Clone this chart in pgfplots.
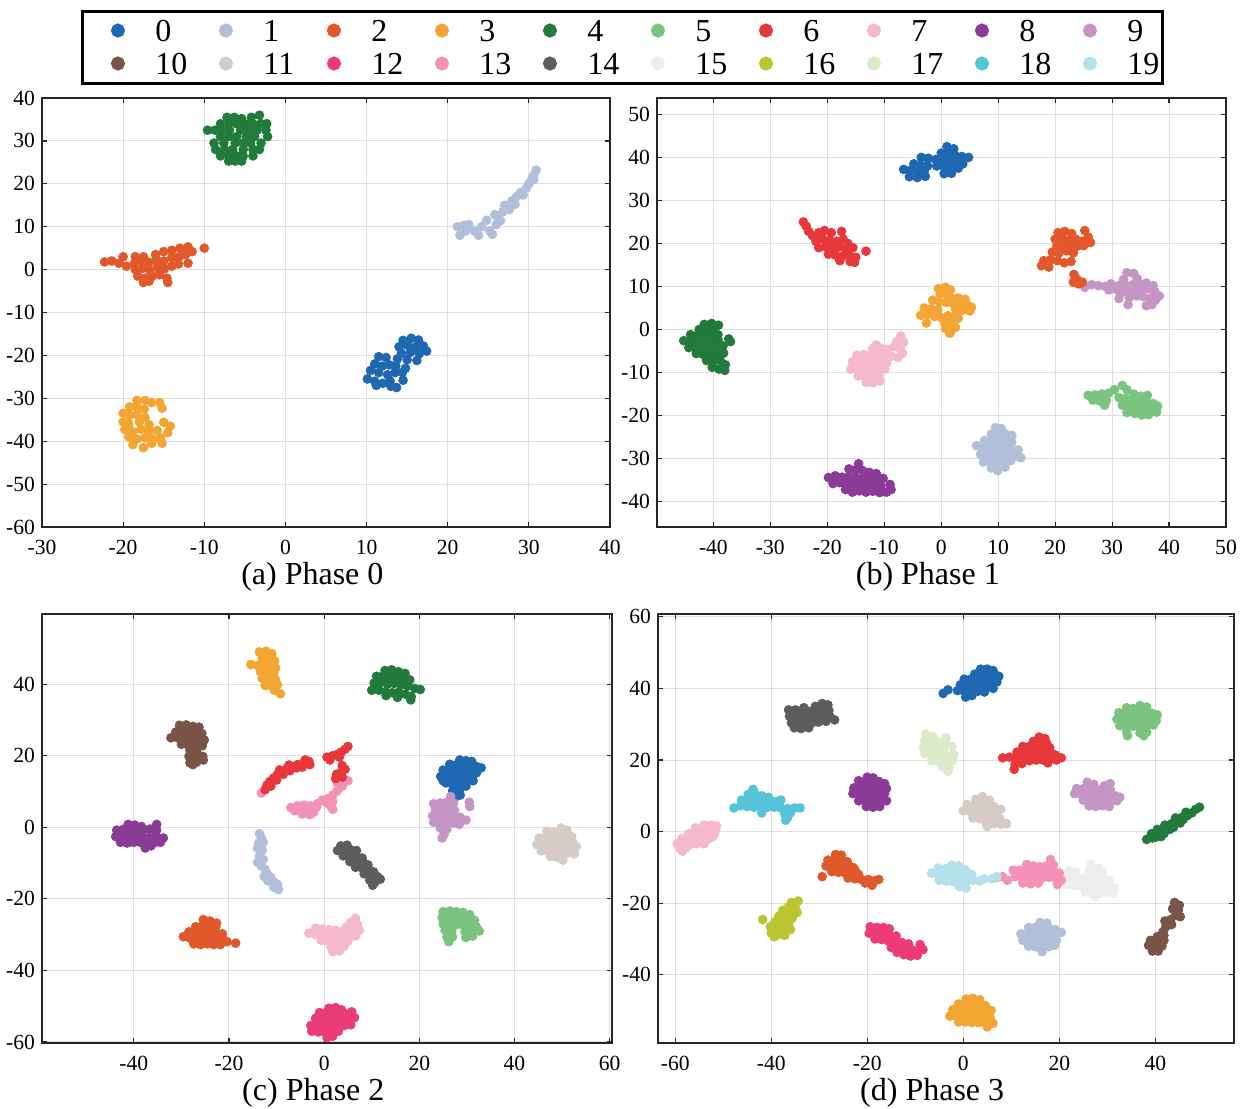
\documentclass[border=0pt]{standalone}
\usepackage{pgfplots}
\pgfplotsset{compat=1.18}
\usepackage{fontspec}
\setmainfont{Liberation Serif}
\definecolor{c0}{HTML}{1F67B1}
\definecolor{c1}{HTML}{B1BFDB}
\definecolor{c2}{HTML}{E1582A}
\definecolor{c3}{HTML}{F3A533}
\definecolor{c4}{HTML}{227B3A}
\definecolor{c5}{HTML}{7BC47F}
\definecolor{c6}{HTML}{E6373A}
\definecolor{c7}{HTML}{F6B8CF}
\definecolor{c8}{HTML}{8A3B95}
\definecolor{c9}{HTML}{C595C6}
\definecolor{c10}{HTML}{7A5447}
\definecolor{c11}{HTML}{D7CBC6}
\definecolor{c12}{HTML}{EB3C77}
\definecolor{c13}{HTML}{F391B6}
\definecolor{c14}{HTML}{5D5D5D}
\definecolor{c15}{HTML}{ECEEEE}
\definecolor{c16}{HTML}{BCC531}
\definecolor{c17}{HTML}{DBEBC9}
\definecolor{c18}{HTML}{55C4D9}
\definecolor{c19}{HTML}{B4E1EC}
\pgfplotsset{
  cl/.style={only marks, mark=*, mark size=2.2pt, color=#1, forget plot},
  pan/.style={
    scale only axis, height=214.5pt,
    anchor=south west,
    tick align=inside,
    grid=major,
    major grid style={color=black!13, line width=0.5pt},
    axis line style={color=black!85, line width=0.9pt},
    major tick style={color=black!85, line width=0.6pt},
    major tick length=2.5pt,
    /pgf/number format/assume math mode=true,
    tick label style={font=\fontsize{10.8}{12}\selectfont, color=black},
    xticklabel style={yshift=-3pt},
    xlabel style={at={(axis description cs:0.476,0)}, anchor=center, yshift=-25pt, font=\fontsize{16}{18}\selectfont},
  }
}
\begin{document}
\begin{tikzpicture}
\path[use as bounding box] (0,0) rectangle (623.5pt,-554pt);
% ---------------- (a) Phase 0 ----------------
\begin{axis}[pan, at={(21pt,-263.5pt)}, width=284pt,
  xmin=-30, xmax=40, ymin=-60, ymax=40,
  xtick={-30,-20,...,40}, ytick={-60,-50,...,40},
  xlabel={(a) Phase 0},
  legend columns=10, legend cell align=left,
  legend image code/.code={\path[draw=none, fill=none] (-17.75pt,-0.1pt) rectangle (17.75pt,0.1pt); \fill[#1] (0pt,0pt) circle (2.75pt);},
  legend style={at={(axis description cs:0.0686,1.2063)}, anchor=north west, draw=black, line width=1.5pt, fill=white,
    inner xsep=0pt, inner ysep=1.5pt, /tikz/column sep=0pt, /tikz/row sep=0pt,
    nodes={draw=none, fill=none, inner xsep=1pt, inner ysep=2.75pt, text height=11pt, text depth=0pt, text width=16.5pt, align=left, font=\fontsize{16}{18}\selectfont}},
]
\addlegendimage{color=c0}
\addlegendimage{color=c1}
\addlegendimage{color=c2}
\addlegendimage{color=c3}
\addlegendimage{color=c4}
\addlegendimage{color=c5}
\addlegendimage{color=c6}
\addlegendimage{color=c7}
\addlegendimage{color=c8}
\addlegendimage{color=c9}
\addlegendimage{color=c10}
\addlegendimage{color=c11}
\addlegendimage{color=c12}
\addlegendimage{color=c13}
\addlegendimage{color=c14}
\addlegendimage{color=c15}
\addlegendimage{color=c16}
\addlegendimage{color=c17}
\addlegendimage{color=c18}
\addlegendimage{color=c19}
\legend{0,1,2,3,4,5,6,7,8,9,10,11,12,13,14,15,16,17,18,19}
% 0
\addplot[cl=c0] coordinates {(14.5,-16.5)(15.5,-16)(16.4,-16.4)(14,-18)(15,-17.6)(16,-18)(17,-17.8)(17.4,-19)(14.3,-19.5)(15.4,-19.3)(16.5,-19.6)(15,-21)(16.2,-21.2)(13.8,-20.8)
(11.5,-20.3)(12.4,-20.5)(11,-22)(11.9,-22.5)(12.8,-22.2)(13.6,-22.5)(10.5,-23.5)(11.5,-24)(12.6,-24.5)(13.5,-24)(14.4,-24)(10.1,-25.5)(11,-26)(12,-26.5)(12.9,-26)(13.7,-27.5)(14.5,-25.8)(11.2,-27)(13,-27.2)(14.8,-23)};
% 1
\addplot[cl=c1] coordinates {(21.2,10)(21.5,8)(22.2,9)(22.6,10.5)(23.3,9)(23.8,8)(24.2,10)(24.8,11.5)(25.2,9)(25.5,8.2)(26,10.5)(26.2,12.3)(22,10.3)
(26.8,13.5)(27,15)(27.6,14)(27.9,16)(28.3,15.2)(28.5,17)(29,18)(29.3,17.4)(29.7,19)(30,20)(30.3,20.8)(30.6,22)(30.9,23.2)(30.6,21)(26.5,11.4)(25.8,12.8)};
% 2
\addplot[cl=c2] coordinates {(-22.3,1.8)(-21.4,2)(-20.5,1.5)(-20,3)(-19.6,0.8)
(-18.5,3)(-17.5,3)(-16,3.5)(-15,4.2)(-14,4.5)(-13,5)(-12,5.3)(-10,5)
(-18.6,1.5)(-17.7,2)(-16.8,1.7)(-15.9,2.2)(-15,2)(-14,2.8)(-13.1,3)(-12.3,3.5)(-11.5,4.2)
(-18.5,0)(-17.6,0.3)(-16.7,-0.2)(-15.8,0.5)(-14.9,0.2)(-14,0.8)(-13.2,1.3)(-12,1.5)
(-18.2,-1.5)(-17.3,-2)(-16.4,-1.5)(-15.5,-1.2)(-14.6,-2)(-17.5,-3)(-16.8,-2.7)(-14.5,-3)};
% 3
\addplot[cl=c3] coordinates {(-18.3,-30.5)(-17.3,-30.5)(-16.5,-31)(-15.5,-31)(-15.2,-32.3)
(-19.2,-32)(-18.3,-32)(-17.4,-32.5)(-20,-33.5)(-19.2,-34)(-18.3,-33.8)(-17.3,-34.5)
(-20,-35.5)(-19.3,-36)(-18,-35.5)(-16.8,-36.2)(-15,-35.6)(-14.2,-36.5)
(-19.8,-37.3)(-18.8,-37.8)(-17.8,-37.2)(-16.8,-37.8)(-15.8,-37.5)(-14.5,-38)
(-19.3,-39)(-18.3,-39.5)(-17.3,-39.2)(-16.3,-39.5)(-15.4,-39.2)
(-18.8,-40.8)(-17.5,-41.5)(-16.5,-40.5)(-15.2,-40.5)};
% 4
\addplot[cl=c4] coordinates {(-7.2,35.5)(-6.3,35.5)(-5.4,35.2)(-4.2,35.5)(-3.2,36)
(-8,34)(-7,34)(-6,34)(-5,34)(-4,34)(-3,34)(-2.3,34)
(-9.6,32.5)(-8.7,32.5)(-7.8,32.5)(-6.9,32.5)(-5.5,32.5)(-4.5,32.5)(-3.5,32.5)(-2.4,32.5)
(-8,31)(-7,31)(-6,31)(-4.8,31)(-3.8,31)(-2.2,31)
(-8.8,29.5)(-7.6,29.5)(-6.2,29.5)(-5.2,29.5)(-4.3,29.5)(-3,29.5)
(-8.6,28)(-7.5,28)(-6.5,28)(-5.2,28)(-4,28)(-3.2,28)
(-8,26.5)(-7,26.5)(-6,26.5)(-5.2,26.5)(-4,26.5)(-7,25.3)(-6.2,25.3)(-5.4,25.3)};
\end{axis}
% ---------------- (b) Phase 1 ----------------
\begin{axis}[pan, at={(328.5pt,-263.5pt)}, width=284.5pt,
  xmin=-49.9, xmax=50, ymin=-45.9, ymax=53.8,
  xtick={-40,-30,...,50}, ytick={-40,-30,...,50},
  xlabel={(b) Phase 1}]
% 0
\addplot[cl=c0] coordinates {(1,42.5)(2.2,42)(0,41)(1.2,40.8)(2.4,40.5)(3.6,40.2)(4.8,40)
(-3.5,40)(-2.3,39.8)(-1,39.5)(0.2,39.4)(1.4,39)(2.6,38.8)(3.8,38.5)
(-4.8,38.5)(-3.6,38.2)(-2.4,38)(-0.8,38)(0.6,37.6)(1.8,37.2)(3,37.5)
(-6.6,37.2)(-5.4,37)(-4.2,36.6)(-3,36.8)(0.5,36.2)(1.8,36.3)(-5.6,35.5)(-4.2,35.3)(-2.8,35.6)};
% 1
\addplot[cl=c1] coordinates {(9.5,-22.8)(10.5,-23)(8.8,-24.3)(10,-24.5)(11.2,-24.2)(12.4,-24.6)
(7.6,-25.8)(8.8,-25.8)(10,-26)(11.2,-25.9)(12.4,-26.2)
(6.2,-27)(7.4,-27.5)(8.6,-27.3)(9.8,-27.5)(11,-27.5)(12.2,-27.8)(13.5,-28)
(6.9,-29)(8.1,-29.1)(9.3,-29)(10.5,-29.2)(11.7,-29.3)(12.9,-29.5)(14,-29.8)
(7.4,-30.8)(8.6,-30.6)(9.8,-30.8)(11,-30.8)(12.2,-30.5)(8.8,-32.2)(9.9,-32.8)(11.2,-32)};
% 9
\addplot[cl=c9] coordinates {(25.2,9.8)(26.4,10.4)(27.6,10.2)(28.8,10)(29.8,10.6)(29.4,9.2)(30.8,9.3)
(32.6,13.2)(33.8,13)(34.4,11.8)(32,11.6)(31.2,10.2)(32.4,10.1)(33.6,10.4)(34.8,10.6)(36,10.8)(37.2,10.2)
(31.5,8.5)(32.7,8.8)(33.9,9)(35.1,9.2)(36.3,9.5)(37.5,8.8)(38.3,7.8)
(31.2,7.2)(33,7.5)(34.3,7.8)(35.5,7.6)(36.7,7.3)(37.6,6.8)(32.8,5.8)(36,5.5)(37,5.8)};
% 2
\addplot[cl=c2] coordinates {(20.5,22.5)(21.7,22.8)(22.9,22.3)(25.2,23)(25.8,21.5)
(20,21)(21.2,21.2)(22.4,20.8)(23.6,21)(24.8,20.5)(26.2,20.2)
(20.3,19.5)(21.5,19.3)(22.7,19.6)(23.9,19.4)(25,19.5)
(19.5,18)(20.7,17.8)(22,18.3)(23.2,17.8)
(18,16)(19.2,16.2)(20.4,16)(21.6,15.5)(22.8,15.8)(17.6,14.8)(18.9,14.5)
(23.3,12.8)(23.8,11.7)(24.1,10.6)(23.2,11)(24.8,11)};
% 3
\addplot[cl=c3] coordinates {(-0.5,9.5)(0.7,9.8)(1.6,9.2)(-0.2,8.2)(1,8.3)(1.8,7.3)(3,7.3)(4.2,7)
(-1.5,6.8)(-0.3,6.5)(0.9,6.3)(2.1,6)(3.3,6.2)(4.5,5.8)(5.3,5.2)
(-3,5)(-1.8,4.8)(-0.6,4.6)(2.5,4.8)(3.7,4.5)(5,4.3)
(-3.6,3.3)(-2.4,3.5)(-1.2,3)(0,2.8)(1.2,3.2)(2.5,3.3)
(-2.6,1.5)(0.6,1.6)(1.8,1.6)(3,2.6)(0.8,0.2)(1.8,-0.2)(1.5,-0.9)(2.5,0.5)};
% 4
\addplot[cl=c4] coordinates {(-41.6,1.2)(-40.3,1.4)(-39.1,1)(-42.5,0)(-41.3,0.2)(-40.1,-0.2)
(-44,-1.2)(-42.8,-1.4)(-41.6,-1)(-40.4,-1.4)(-39.2,-1.2)
(-45.2,-2.6)(-44,-2.8)(-42.8,-2.6)(-41.6,-2.9)(-40.4,-2.7)(-39.2,-2.4)(-37,-2.8)(-37.3,-2.2)
(-44.3,-4.2)(-43.1,-4.3)(-41.9,-4)(-40.7,-4.3)(-39.5,-4.1)(-38.3,-3.8)
(-43,-5.6)(-41.8,-5.8)(-40.6,-5.6)(-39.4,-5.8)(-38.2,-5.5)
(-41.2,-7.2)(-40,-7.4)(-38.8,-7.2)(-40.2,-8.8)(-39,-9.2)(-38,-9.5)(-37.9,-8.2)};
% 5
\addplot[cl=c5] coordinates {(25.8,-15.3)(27,-15.2)(28.2,-15)(29.4,-14.8)(26.6,-16.4)(27.8,-16.6)(29,-16.5)(28.7,-17.6)
(30.4,-14)(31.8,-13)(32.6,-14)(33.8,-15)(35,-15.5)(36.2,-15.3)
(31.2,-15.8)(32.4,-16)(33.6,-16.5)(34.8,-16.8)(36,-17)(37.2,-17.2)(38,-17.8)
(31.8,-17.6)(33,-17.8)(34.2,-18.2)(35.4,-18.5)(36.6,-18.6)(37.8,-19.2)
(32.6,-19.3)(34,-19.5)(35.2,-19.9)(36.4,-19.8)};
% 6
\addplot[cl=c6] coordinates {(-24.2,25)(-23.7,24)(-23.3,22.8)(-22.6,21.8)(-21.5,22.5)(-20.5,23)(-19.3,22.5)(-17.5,22.8)
(-22,20.5)(-20.8,21)(-19.6,20.7)(-18.4,20.5)(-17.2,21)(-16.4,20)
(-21.5,19)(-20.3,19.2)(-19.1,18.8)(-17.9,19.2)(-16.7,18.6)(-15.5,19)
(-19.8,17.5)(-18.6,17.3)(-17.4,17)(-16.2,17.4)(-15,16.8)(-13.2,18.2)(-17.8,16)(-16,15.8)(-15.2,15.6)};
% 7
\addplot[cl=c7] coordinates {(-7.1,-1.5)(-6.6,-3)(-7.8,-2.8)(-8.3,-4)(-7.2,-4.4)(-6.8,-5.5)
(-9.6,-4.6)(-10.8,-4.2)(-12,-4.4)(-11.4,-3.6)
(-14.8,-6)(-13.6,-5.8)(-12.4,-5.8)(-11.2,-5.9)(-10,-6)(-8.8,-6.2)(-7.6,-6.5)
(-15.6,-7.5)(-14.4,-7.4)(-13.2,-7.5)(-12,-7.4)(-10.8,-7.6)(-9.6,-7.8)
(-15.9,-9.2)(-14.7,-9.2)(-13.5,-9)(-12.3,-9.1)(-11.1,-9.3)(-9.9,-9.2)
(-14.6,-10.8)(-13.4,-11)(-12.2,-10.9)(-11,-10.7)(-13.2,-12.3)(-12,-12.4)(-10.8,-12)};
% 8
\addplot[cl=c8] coordinates {(-14.5,-31.2)(-16.2,-32.4)(-15,-32.6)(-13.8,-32.8)(-12.6,-33.2)(-11.4,-33.5)
(-19.8,-34.4)(-18.6,-34)(-17.4,-34.3)(-16.2,-34.2)(-15,-34.4)(-13.8,-34.6)(-12.6,-34.8)(-11.4,-34.9)(-10.2,-34.6)
(-19,-35.8)(-17.8,-35.6)(-16.6,-35.9)(-15.4,-36)(-14.2,-36.2)(-13,-36.1)(-11.8,-36.2)(-10.6,-36.4)(-9,-36)
(-16.8,-37.2)(-15.6,-37.8)(-14.4,-37.5)(-13.2,-37.8)(-12,-37.6)(-10.8,-37.9)(-9.6,-37.8)(-8.8,-37.2)};
\end{axis}
% ---------------- (c) Phase 2 ----------------
\begin{axis}[pan, at={(21pt,-521.5pt)}, width=285pt,
  xmin=-59.3, xmax=60.5, ymin=-60.3, ymax=59.6,
  xtick={-40,-20,...,60}, ytick={-60,-40,...,40},
  xlabel={(c) Phase 2}]
% 0
\addplot[cl=c0] coordinates {(28.5,18.8)(29.8,18.6)(31,18.4)(26.4,17.6)(27.8,17.5)(29.2,17.4)(30.6,17.2)(32,17)(33,16.6)
(25,16)(26.4,15.9)(27.8,15.8)(29.2,15.6)(30.6,15.4)(32,15.2)
(24.5,14.2)(25.9,14)(27.3,13.8)(28.7,13.6)(30.1,13.7)(31.3,13)
(25.6,12.4)(27,12)(28.4,11.8)(29.8,11.5)(27,10.2)(28.4,10)(27.6,8.5)(28.6,9)(25,13)};
% 1
\addplot[cl=c1] coordinates {(-13.6,-1.8)(-13.2,-3)(-13.8,-4.4)(-12.8,-4.2)(-14,-5.8)(-13,-6.5)(-13.6,-8)(-12.8,-9)(-14,-9.8)(-13.2,-10.8)(-12.4,-11.8)(-12,-13)(-11.2,-14)(-10.6,-15.2)(-11.8,-15)(-9.8,-16)(-10.6,-16.8)(-9.6,-17.4)(-12.6,-13.8)};
% 2
\addplot[cl=c2] coordinates {(-25.4,-25.8)(-24,-26.2)(-22.6,-26.8)
(-27,-27.8)(-25.6,-27.6)(-24.2,-27.8)(-22.8,-28)
(-28.4,-29.2)(-27,-29.4)(-25.6,-29.2)(-24.2,-29.5)(-22.8,-29.6)(-21.4,-29.8)
(-29.6,-30.6)(-28.2,-31)(-26.8,-31)(-25.4,-31)(-24,-31.2)(-22.6,-31.2)(-21.2,-31.4)(-18.6,-32.4)
(-27.4,-32.6)(-26,-32.8)(-24.6,-32.6)(-23.2,-32.8)(-21.8,-32.8)(-20.4,-32)};
% 3
\addplot[cl=c3] coordinates {(-13.6,49)(-12.2,49.2)(-11,48.5)(-13,47.2)(-11.6,47.4)(-10.4,46.5)
(-15.4,45.5)(-14,45.2)(-12.6,45.4)(-11.2,45)(-10.2,44.5)
(-13.4,43.5)(-12,43.4)(-10.6,43)(-13,41.6)(-11.6,41.4)(-10.2,41.2)
(-12.4,39.6)(-11,39.4)(-9.8,39.8)(-10.4,38.2)(-9.2,37.3)};
% 4
\addplot[cl=c4] coordinates {(12.8,43.8)(14.2,44)(15.6,43.5)(17,43)
(11,42.2)(12.4,42.3)(13.8,42)(15.2,41.8)(16.6,41.6)(18,41.2)
(10.5,40.3)(11.9,40.5)(13.3,40)(14.7,40.2)(16.1,39.8)(17.5,39.5)(19,38.8)(20.2,38.5)
(10,38.3)(11.5,38.3)(12.9,37.9)(14.3,37.6)(15.7,37.8)(17.1,37.2)(18.3,36.5)
(13,36.8)(15.4,36.3)(18.2,35.6)};
% 5
\addplot[cl=c5] coordinates {(25,-23.6)(26.4,-23.4)(27.8,-23.6)(29.2,-23.8)(30.6,-24.4)
(24.8,-25.2)(26.2,-25.2)(27.6,-25.2)(29,-25.4)(30.4,-25.8)(31.6,-26)
(25,-27)(26.4,-27)(27.8,-27.2)(29.2,-27.4)(30.6,-27.6)(32,-27.8)
(25.4,-28.8)(26.8,-29)(29.6,-29.2)(31,-29.4)(32.6,-29)
(25.8,-30.6)(27,-30.6)(29.8,-30.8)(31.2,-30.4)(26.2,-32)};
% 13
\addplot[cl=c13] coordinates {(-13.2,9.6)
(-7,5.5)(-5.6,6)(-4.2,6.2)(-2.8,6)(-6.2,4.6)(-4.8,4.5)(-3.4,4.4)(-2.2,4.2)(-4.6,3.7)(-3,3.5)
(-1.4,6.6)(-0.4,7.6)(0.8,8)(1.8,7.2)(0.6,6.8)(1.4,6)(1.8,5)(1.8,9)(2.6,10)(3.2,11)(2.8,12.2)(4,12.6)(5,13)(3.8,11.5)(-1.6,5.6)};
% 6
\addplot[cl=c6] coordinates {(-12.4,10.5)(-12,11.8)(-11.4,12.8)(-10.6,13.8)(-9.8,14.8)(-8.8,15.6)(-7.8,16.4)(-6.8,17)(-5.6,17.5)(-4.4,17.8)(-3.2,18.4)(-11.2,11.5)(-10,13.2)(-8.6,14.8)(-7.2,15.8)(-5.8,16.6)(-4.6,16.8)(-3,17.5)(-4,18.8)(-7.4,17.4)(-9.4,16)
(0.6,19.6)(1.8,20)(2.8,20.4)(3.6,21)(4.4,21.8)(5,22.6)(1.2,18.8)(3.2,19.6)
(3.8,17.2)(4.4,16.2)(3.6,15.4)(2.6,14.8)(3.8,14)(2.4,13.6)};
% 7
\addplot[cl=c7] coordinates {(6.6,-25.4)(5.6,-26.6)(7,-27.2)(4.6,-28)(6,-28.4)(7.4,-28.8)
(-1.8,-28.2)(-0.4,-28.4)(1,-28.6)(2.4,-28.8)(3.6,-29.2)
(-3.2,-29.6)(-1.8,-30)(-0.4,-30)(1,-30.2)(2.4,-30.4)(3.8,-30.4)(5.2,-30)(6.6,-30.4)
(-0.6,-31.6)(0.8,-31.8)(2.2,-32)(3.6,-32)(5,-31.8)
(1.4,-33.4)(2.8,-33.6)(4.2,-33.2)(1.8,-34.8)(3.2,-34.6)};
% 8
\addplot[cl=c8] coordinates {(-41.2,0.8)(-39.8,0.6)(-38.4,0.2)(-35.2,0.8)
(-43.6,-0.8)(-42.2,-0.6)(-40.8,-0.8)(-39.4,-0.8)(-38,-0.6)(-36.6,-0.5)(-35.2,-0.8)
(-43.8,-2.6)(-42.4,-2.4)(-41,-2.6)(-39.6,-2.5)(-38.2,-2.6)(-36.8,-2.8)(-35.4,-2.6)(-33.8,-3)
(-42.8,-4.2)(-41.4,-4.4)(-40,-4.2)(-38.6,-4.2)(-37.2,-4.6)(-35.8,-4.4)(-34.4,-4.2)
(-37.6,-5.8)(-36.4,-5.2)};
% 9
\addplot[cl=c9] coordinates {(26.6,8.6)(23,6.6)(24.4,6.8)(25.8,7)(27.2,6.8)
(23.4,5)(24.8,5.2)(26.2,5.1)(27.4,4.8)
(22.8,3.2)(24.2,3.4)(25.6,3.3)(27,3.2)(28.6,2.8)(29.8,2)
(23,1.4)(24.4,1.5)(25.8,1.4)(27.2,1.2)(28.4,0.8)
(24.4,-0.2)(25.8,-0.5)(25.2,-2)(24.8,-3)(30.5,7)(30.6,5.8)};
% 10
\addplot[cl=c10] coordinates {(-30.4,28.5)(-29,28.6)(-27.6,28.2)(-26.3,28)
(-31.2,26.6)(-29.8,26.8)(-28.4,26.5)(-27,26.6)(-25.7,26.2)
(-32.2,25)(-30.8,25)(-29.4,24.7)(-28,24.8)(-26.6,25)(-25.2,24.4)
(-30,23.2)(-28.6,23)(-27.2,23.3)(-25.6,22.8)
(-28.2,21.5)(-26.8,21.3)(-28.4,19.8)(-27,19.6)(-25.5,19.8)(-28.2,18)(-26.8,18.2)(-25.4,18.8)(-27.6,17.5)};
% 11
\addplot[cl=c11] coordinates {(49.8,-0.2)(51,-0.8)(46.8,-1.2)(48.2,-1.4)(49.6,-1.6)(51,-2)(52,-2.6)
(45.2,-3)(46.6,-3)(48,-3.2)(49.4,-3.4)(50.8,-3.6)(52.2,-4)
(44.7,-4.8)(46.1,-4.8)(47.5,-5)(48.9,-5.2)(50.3,-5.4)(51.7,-5.6)(53,-5.4)
(45.6,-6.6)(47,-6.8)(48.4,-6.8)(49.8,-7)(51.2,-7.2)(52.6,-7.4)
(47.6,-8.2)(49,-8.4)(50.2,-9.2)};
% 12
\addplot[cl=c12] coordinates {(1,-50.6)(2.4,-50.4)(3.6,-51)
(-1,-51.8)(0.4,-51.8)(1.8,-52)(3.2,-52)(4.6,-52.2)(5.8,-51.6)
(-1.8,-53.4)(-0.4,-53.6)(1,-53.6)(2.4,-53.8)(3.8,-53.8)(5.2,-53.6)(6.4,-53.2)
(-2.8,-55.4)(-1.4,-55.4)(0,-55.6)(1.4,-55.4)(2.8,-55.6)(4.2,-55.4)(5.6,-55.2)
(-2.6,-57)(-1.2,-57.2)(0.2,-57.2)(1.6,-57.4)(3,-57)(0.6,-58.8)(1.8,-58.4)};
% 14
\addplot[cl=c14] coordinates {(3.5,-5.2)(4.8,-5)(2.8,-6.5)(4.2,-6.6)(5.6,-6.3)(6.8,-6.5)(4,-8)(5.4,-8)(6.8,-8.2)(8,-8.6)(5.4,-9.6)(6.8,-9.8)(8.2,-9.8)(9.2,-10.5)(6.6,-11.2)(8,-11.4)(9.4,-11.8)(10.4,-12.5)(8.4,-13)(9.8,-13.4)(11.2,-13.8)(9.6,-14.8)(10.6,-15.5)(11.8,-14.5)(10.2,-16.2)};
\end{axis}
% ---------------- (d) Phase 3 ----------------
\begin{axis}[pan, at={(329pt,-521.5pt)}, width=288pt,
  xmin=-63.6, xmax=56.4, ymin=-59.1, ymax=60.8,
  xtick={-60,-40,...,40}, ytick={-40,-20,...,60},
  xlabel={(d) Phase 3}]
% 0
\addplot[cl=c0] coordinates {(-4.2,38.6)(-3.2,39.6)
(3.6,45.4)(5,45.4)(6.2,45)(2.4,44)(3.8,44.2)(5.2,43.8)(6.6,43.6)(7.4,43.4)
(0.2,42.6)(1.6,42.6)(3,42.4)(4.4,42.4)(5.8,42.2)(7,41.8)
(-0.6,41)(0.8,40.8)(2.2,40.6)(3.6,40.8)(5,40.4)(6.2,40)
(-1.2,39.4)(0.2,39.2)(1.6,39)(3,39.2)(4.4,39)(0.5,37.6)(1.8,38)(0.9,38.5)};
% 1
\addplot[cl=c1] coordinates {(16,-25.4)(17.4,-25.6)(13.6,-26.8)(15,-26.8)(16.4,-27)(17.8,-27)(19.2,-27.4)
(12,-28.6)(13.4,-28.6)(14.8,-28.6)(16.2,-28.8)(17.6,-28.8)(19,-28.6)(20.4,-28.2)
(12.4,-30.4)(13.8,-30.4)(15.2,-30.6)(16.6,-30.6)(18,-30.6)(19.4,-30.4)
(13.6,-32)(15,-32.2)(16.4,-32.4)(17.8,-32.2)(19,-31.8)(16.4,-33.6)};
% 2
\addplot[cl=c2] coordinates {(-26.6,-6.4)(-25.4,-6.6)(-28.2,-8)(-26.8,-7.8)(-25.4,-8)(-24.2,-8.4)
(-28.6,-9.6)(-27.2,-9.4)(-25.8,-9.6)(-24.4,-10)(-23,-10)
(-27.4,-11.2)(-26,-11.4)(-24.6,-11.6)(-23.2,-11.8)(-21.8,-12)(-22.6,-10.6)
(-29.4,-12.6)(-24,-13)(-22.6,-13.2)(-21.2,-13.4)(-19.8,-13.4)(-18.6,-13.8)(-17.6,-13.4)(-19,-15)(-20.4,-14.4)};
% 3
\addplot[cl=c3] coordinates {(0.6,-46.8)(2,-46.6)(3.4,-47)
(-1,-48.2)(0.4,-48.2)(1.8,-48.2)(3.2,-48.4)(4.6,-48.6)
(-2.2,-49.8)(-0.8,-50)(0.6,-50)(2,-50)(3.4,-50.2)(4.8,-50.2)(5.8,-50)
(-2.8,-51.6)(-1.4,-51.6)(0,-51.8)(1.4,-51.8)(2.8,-51.8)(4.2,-52)(5.6,-52)
(-1,-53.2)(0.4,-53.2)(1.8,-53.4)(3.2,-53.4)(4.6,-53.6)(6.2,-53.6)(5,-54.6)};
% 4
\addplot[cl=c4] coordinates {(38.2,-2.2)(39.4,-1.8)(39.2,-0.6)(40.6,-0.6)(40.4,0.6)(41.6,0.4)(41.2,-1.4)(42.6,1.2)(42,1.8)(43.4,2.2)(43,0.6)(44.6,2.8)(44.2,3.8)(45.6,4)(45.2,2.4)(46.6,4.4)(46.4,5.4)(47.6,5.2)(48.4,6.2)(49.2,6.8)(43.8,1.2)(41.8,-0.6)(40,-1.6)(45.8,3.4)};
% 5
\addplot[cl=c5] coordinates {(36.8,35.2)(38.2,34.8)(34,34.6)(35.4,34.4)
(32.4,33.2)(33.8,33)(35.2,33)(36.6,33)(38,33)(39.4,33)(40.4,32.6)
(32,31.4)(33.4,31.2)(34.8,31.2)(36.2,31.2)(37.6,31.4)(39,31.2)(40.2,31)
(32.6,29.6)(34,29.4)(35.4,29.4)(36.8,29.4)(38.2,29.6)(39.6,29.8)
(34,27.8)(36.8,27.6)(38.2,27.8)(34.2,26.8)(37.6,26.8)};
% 6
\addplot[cl=c6] coordinates {(15.8,26.4)(17,26)(14.6,25.2)(16,24.8)(17.4,24.6)
(12.4,23.8)(13.8,23.8)(15.2,23.2)(16.6,23)(18,23.4)
(11.2,22.2)(12.6,22)(14,21.6)(15.4,21.4)(16.8,21.6)(18.2,22)(19.2,21.4)
(8.2,20.6)(9.6,20.8)(11,20.4)(12.4,20.2)(13.8,19.8)(15.2,20)(16.6,20)(18,20.2)(19.4,20)(20.4,20.6)
(10.8,18.8)(12.2,19)(10.6,17.4)(17.6,19.2)};
% 7
\addplot[cl=c7] coordinates {(-54,1.8)(-52.6,1.8)(-51.4,1.6)(-55.8,1)(-54.4,0.6)(-53,0.6)(-51.6,0.6)
(-57.2,-0.6)(-55.8,-0.8)(-54.4,-0.8)(-53,-0.8)(-51.8,-0.6)
(-58.6,-2)(-57.2,-2.2)(-55.8,-2.2)(-54.4,-2.2)(-53,-2)(-52.2,-1.4)
(-59.6,-3.4)(-58.2,-3.6)(-56.8,-3.6)(-55.4,-3.4)(-54,-3.4)(-59,-4.8)(-57.8,-4.6)(-58.5,-5.5)};
% 8
\addplot[cl=c8] coordinates {(-20,15.2)(-18.8,15)(-21.8,14.2)(-20.4,13.8)(-19,13.8)(-17.6,14)(-16.4,13.4)
(-22.8,12.2)(-21.4,12.2)(-20,12.2)(-18.6,12)(-17.2,12.2)(-16,12)
(-23,10.6)(-21.6,10.4)(-20.2,10.4)(-18.8,10.2)(-17.4,10.4)(-16.4,10.6)
(-21.8,8.6)(-20.4,8.6)(-19,8.4)(-17.6,8.6)(-16,8.6)(-20.2,7)(-18.8,6.8)(-17.4,7)};
% 9
\addplot[cl=c9] coordinates {(25.8,13.8)(27.2,13.2)(30.6,13.4)(29.4,12.8)
(23.6,12)(25,12)(26.4,11.8)(27.8,11.8)(29.2,11.6)(30.6,11.8)
(23.2,10.6)(24.6,10.4)(26,10.2)(27.4,10.2)(28.8,10)(30.2,10)(31.6,10)(32.6,9.6)
(25,8.8)(26.4,8.6)(27.8,8.6)(29.2,8.6)(30.6,8.4)(32,8.6)
(26.2,7.2)(27.6,7)(29,7.2)(30.4,7)};
% 10
\addplot[cl=c10] coordinates {(44,-19.8)(45,-20.6)(44.8,-22)(43.6,-21.6)(44.2,-23.4)(45.2,-23.8)(43.2,-24.6)(42,-25)(43.4,-26)(42.2,-26.6)(41.6,-28)(40.4,-29.4)(41.2,-29.2)(39,-30.4)(40.4,-30.6)(41.8,-30.4)(38.6,-31.8)(40,-32)(41.4,-32)(39.4,-33.4)(40.6,-33.4)(41.8,-29)};
% 11
\addplot[cl=c11] coordinates {(4,9.8)(2.6,9)(4,8.6)(5.4,8.8)
(0.8,7.6)(2.2,7.4)(3.6,7.2)(5,7.2)(6.4,7)
(0,5.8)(1.4,5.6)(2.8,5.6)(4.2,5.4)(5.6,5.2)(7,5.4)(7.8,6.2)
(2,3.8)(3.4,3.6)(4.8,3.8)(6.2,3.6)(7.6,3.6)
(4.8,2.2)(6.4,2.2)(7.8,2)(9,2.2)(5,1.4)};
% 12
\addplot[cl=c12] coordinates {(-19.4,-26.6)(-18,-26.8)(-16.6,-26.8)(-15.4,-27.2)
(-19.6,-28.4)(-18.2,-28.4)(-16.8,-28.6)(-15.4,-29)(-14,-29.2)
(-18.4,-30)(-17,-30.2)(-15.6,-30.6)(-14.2,-30.8)(-12.8,-31)(-11.4,-31.4)(-9,-31.6)
(-15,-32.4)(-13.6,-32.6)(-12.2,-32.8)(-10.8,-33)(-9.4,-33.2)(-8.4,-33)
(-12.4,-34.4)(-11,-34.8)(-9.6,-34.6)(-13.8,-33.8)};
% 14
\addplot[cl=c14] coordinates {(-29.4,35.8)(-28.2,35.4)(-30.8,35)(-33.2,34.6)
(-36.4,34)(-35,34)(-33.6,33.8)(-32.2,33.6)(-30.8,33.6)(-29.4,33.8)(-28,33.8)
(-36.2,32.2)(-34.8,32)(-33.4,32)(-32,31.8)(-30.6,32)(-29.2,32.2)(-27.8,32.2)
(-35.8,30.4)(-34.4,30.2)(-33,30.2)(-31.6,30.4)(-30.2,30.6)(-28.6,30.8)(-26.8,31.2)
(-35.2,29)(-33.8,28.8)(-32.2,29)};
% 15
\addplot[cl=c15] coordinates {(26.6,-9.2)(28.2,-10.2)(22,-11)(23.4,-11.4)(26.2,-11)(27.6,-11.6)(29,-11.4)
(20.8,-12.8)(22.2,-13)(23.6,-13.2)(25,-13.2)(26.4,-13)(27.8,-13)(29.2,-13.2)(30.4,-13.6)
(21.6,-14.8)(23,-15)(24.4,-15.2)(25.8,-15.4)(27.2,-15.2)(28.6,-15)(30,-15.2)(31.4,-15.8)
(25.4,-17)(26.8,-17.2)(28.2,-17.2)(29.6,-17)(31.2,-17.2)(27.6,-18.2)};
% 13
\addplot[cl=c13] coordinates {(7,-12.8)(8.2,-12.6)(9.2,-13.6)
(18.2,-7.8)(13.2,-9.2)(14.6,-9.6)(16,-9.8)(17.4,-9.6)(18.8,-9.4)
(10.4,-10.8)(11.8,-10.8)(13.2,-11)(14.6,-11.2)(16,-11.2)(17.4,-11.2)(18.8,-11)(20,-11.6)
(10.8,-12.6)(12.2,-12.8)(13.6,-12.8)(15,-13)(16.4,-13)(17.8,-12.8)(19.2,-13)(20.4,-13.6)
(12.4,-14.4)(14,-14.6)(15.6,-14.4)(19.6,-14.8)};
% 16
\addplot[cl=c16] coordinates {(-41.8,-24.6)(-34.4,-19.4)(-35.8,-19.8)(-36.4,-21)(-35,-21.2)(-37.6,-22)(-36.2,-22.6)(-34.6,-22.6)
(-38.4,-23.6)(-37,-24)(-35.6,-24.2)(-39.2,-25.2)(-37.8,-25.6)(-36.4,-25.8)
(-40.2,-26.6)(-38.8,-27)(-37.4,-27.4)(-36,-27.4)(-40,-28.4)(-38.6,-28.8)(-37.2,-29)(-39.4,-29.4)};
% 17
\addplot[cl=c17] coordinates {(-7.8,27.2)(-6.4,26.6)(-3.6,26.2)(-8,25.4)(-6.6,25.2)(-5.2,25)(-3.8,25)
(-8.3,23.6)(-6.9,23.4)(-5.5,23.2)(-4.1,23.4)(-2.4,23.8)
(-8,21.8)(-6.6,21.6)(-5.2,21.4)(-3.8,21.6)(-2,21.6)
(-6.6,19.8)(-5.2,19.6)(-3.8,19.8)(-2.2,20)(-4.4,18.2)(-3,18)(-3.2,16.8)};
% 18
\addplot[cl=c18] coordinates {(-43.8,11.8)(-44.8,10.4)(-43.4,10.4)(-42,10)(-40.6,9.6)
(-46.2,8.8)(-44.8,8.8)(-43.4,8.6)(-42,8.4)(-40.6,8.2)(-39.2,8.4)(-38,8.8)
(-47.8,6.6)(-46.4,7.2)(-45,7)(-43.6,6.8)(-42.2,6.6)(-40.8,6.8)(-39.4,6.8)(-38,6.6)(-36.6,6.4)(-35.2,6.6)(-34,6.6)
(-42,5.2)(-37.2,5)(-36,5.2)(-36.6,4)(-37,3.2)};
% 19
\addplot[cl=c19] coordinates {(-2.4,-9.4)(-1,-9.6)(-5.2,-10.2)(-3.8,-10.4)(-2.4,-10.8)(-1,-10.8)(0.4,-10.6)
(-6.6,-11.6)(-5.2,-12)(-3.8,-12.2)(-2.4,-12.2)(-1,-12.4)(0.4,-12.2)(1.8,-12)
(-5,-13.6)(-3.6,-13.8)(-2.2,-14)(-0.8,-14)(0.6,-13.8)(2,-13.6)(3.4,-13.8)(4.4,-13.2)
(-0.8,-15.4)(0.6,-15.8)(6,-13.2)(7,-12.6)};
\end{axis}
\end{tikzpicture}
\end{document}
